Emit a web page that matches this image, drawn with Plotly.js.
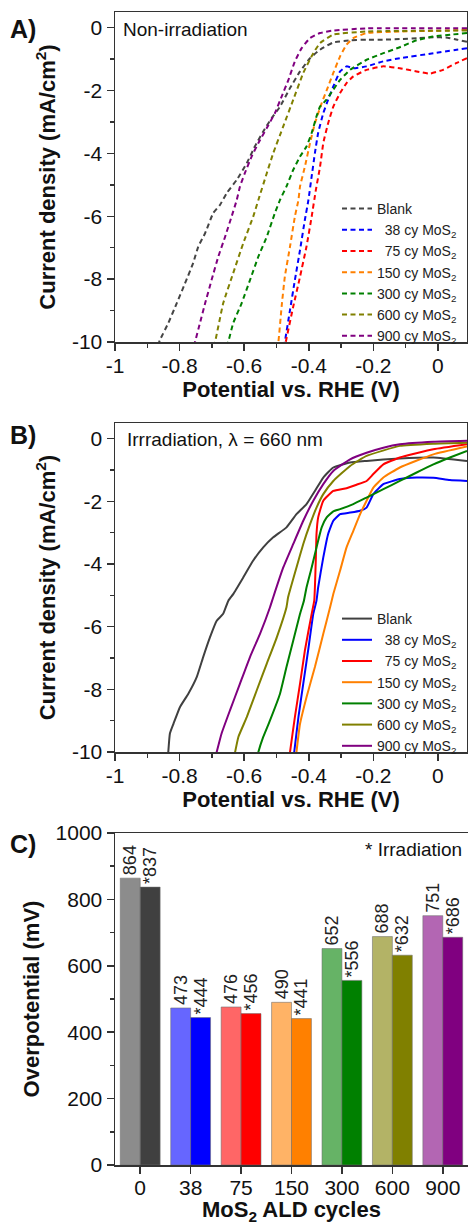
<!DOCTYPE html>
<html>
<head>
<meta charset="utf-8">
<script src="https://cdn.plot.ly/plotly-3.0.1.min.js"></script>
<style>
html,body{margin:0;padding:0;background:#fff;}
#chart{width:468px;height:1224px;}
</style>
</head>
<body>
<div id="chart"></div>
<script>
// ---------- series labels & colours ----------
const seriesNames = ['Blank', '\u00a0\u00a038 cy MoS<sub>2</sub>', '\u00a0\u00a075 cy MoS<sub>2</sub>', '150 cy MoS<sub>2</sub>', '300 cy MoS<sub>2</sub>', '600 cy MoS<sub>2</sub>', '900 cy MoS<sub>2</sub>'];
const seriesColors = ['#454545', '#0000ff', '#ff0000', '#ff8000', '#008000', '#808000', '#800080'];

// ---------- Panel A: non-irradiation (V vs RHE, mA/cm2) ----------
const aBlankV = [0.09, 0.06, 0.03, -0.014, -0.06, -0.118, -0.17, -0.221, -0.27, -0.324, -0.365, -0.396, -0.427, -0.458, -0.489, -0.515, -0.541, -0.567, -0.592, -0.623, -0.654, -0.675, -0.696, -0.721, -0.742, -0.758, -0.783, -0.809, -0.835, -0.861, -0.87];
const aBlankJ = [-0.45, -0.38, -0.32, -0.30, -0.33, -0.36, -0.38, -0.38, -0.40, -0.47, -0.70, -0.97, -1.39, -1.92, -2.51, -2.88, -3.30, -3.78, -4.31, -4.84, -5.26, -5.64, -5.90, -6.54, -6.96, -7.49, -8.13, -8.77, -9.40, -9.94, -10.2];
const a38V = [0.09, -0.014, -0.118, -0.169, -0.221, -0.262, -0.283, -0.303, -0.324, -0.340, -0.355, -0.371, -0.381, -0.391, -0.401, -0.412, -0.427, -0.443, -0.458, -0.474, -0.48];
const a38J = [-0.65, -0.81, -0.97, -1.07, -1.23, -1.29, -1.23, -1.39, -1.87, -2.29, -2.72, -3.35, -3.99, -4.73, -5.48, -6.11, -7.07, -8.03, -8.98, -9.99, -10.3];
const a75V = [0.09, 0.058, 0.016, -0.025, -0.066, -0.118, -0.169, -0.221, -0.262, -0.283, -0.303, -0.324, -0.340, -0.355, -0.365, -0.378, -0.391, -0.407, -0.427, -0.448, -0.471, -0.476];
const a75J = [-0.97, -1.12, -1.34, -1.46, -1.39, -1.29, -1.23, -1.34, -1.55, -1.76, -2.08, -2.51, -3.04, -3.67, -4.42, -5.16, -6.01, -6.96, -7.92, -8.87, -9.99, -10.3];
const a150V = [0.09, -0.014, -0.118, -0.221, -0.262, -0.283, -0.303, -0.324, -0.340, -0.360, -0.381, -0.396, -0.412, -0.427, -0.432, -0.443, -0.458, -0.474, -0.484, -0.494, -0.50];
const a150J = [-0.07, -0.10, -0.12, -0.17, -0.33, -0.54, -0.91, -1.44, -1.87, -2.40, -3.04, -3.67, -4.42, -5.05, -5.48, -6.01, -6.96, -7.92, -8.87, -9.99, -10.3];
const a300V = [0.09, 0.04, -0.014, -0.066, -0.118, -0.169, -0.221, -0.272, -0.303, -0.324, -0.345, -0.365, -0.376, -0.391, -0.407, -0.427, -0.448, -0.469, -0.489, -0.505, -0.530, -0.556, -0.582, -0.608, -0.634, -0.649, -0.655];
const a300J = [-0.17, -0.22, -0.28, -0.40, -0.62, -0.81, -1.02, -1.34, -1.66, -1.97, -2.29, -2.51, -2.82, -3.35, -3.78, -4.10, -4.52, -5.05, -5.48, -5.90, -6.65, -7.28, -8.03, -8.77, -9.40, -9.99, -10.2];
const a600V = [0.09, -0.221, -0.324, -0.365, -0.386, -0.417, -0.448, -0.479, -0.510, -0.530, -0.556, -0.572, -0.603, -0.634, -0.665, -0.690, -0.70];
const a600J = [-0.09, -0.12, -0.22, -0.49, -0.81, -1.44, -2.29, -3.14, -3.99, -4.63, -5.48, -6.01, -6.86, -7.81, -8.77, -9.99, -10.3];
const a900V = [0.09, -0.221, -0.324, -0.365, -0.396, -0.422, -0.443, -0.463, -0.484, -0.505, -0.530, -0.556, -0.577, -0.598, -0.613, -0.623, -0.639, -0.659, -0.680, -0.701, -0.721, -0.737, -0.752, -0.76];
const a900J = [-0.02, -0.02, -0.09, -0.17, -0.33, -0.65, -1.07, -1.66, -2.19, -2.72, -3.19, -3.67, -4.10, -4.63, -5.05, -5.48, -6.01, -6.65, -7.28, -8.03, -8.77, -9.40, -9.99, -10.3];

// ---------- Panel B: irradiation, 660 nm ----------
const bBlankV = [0.09, -0.014, -0.118, -0.221, -0.272, -0.324, -0.355, -0.381, -0.407, -0.438, -0.469, -0.510, -0.541, -0.572, -0.603, -0.634, -0.649, -0.665, -0.685, -0.706, -0.727, -0.747, -0.773, -0.799, -0.819, -0.830, -0.835, -0.837];
const bBlankJ = [-0.71, -0.60, -0.63, -0.71, -0.76, -0.92, -1.24, -1.67, -2.09, -2.41, -2.83, -3.15, -3.47, -3.89, -4.43, -4.96, -5.17, -5.59, -5.81, -6.34, -6.97, -7.61, -8.14, -8.57, -9.10, -9.41, -10.0, -10.3];
const b38V = [0.09, 0.037, -0.014, -0.066, -0.118, -0.169, -0.200, -0.221, -0.241, -0.272, -0.303, -0.324, -0.340, -0.355, -0.371, -0.376, -0.386, -0.402, -0.417, -0.432, -0.445, -0.447];
const b38J = [-1.35, -1.32, -1.25, -1.24, -1.29, -1.45, -1.77, -2.20, -2.30, -2.36, -2.41, -2.62, -3.04, -3.79, -4.75, -5.17, -5.59, -6.76, -7.82, -8.89, -10.0, -10.2];
const b75V = [0.09, -0.014, -0.118, -0.169, -0.200, -0.221, -0.252, -0.283, -0.324, -0.355, -0.371, -0.376, -0.378, -0.381, -0.383, -0.391, -0.412, -0.427, -0.443, -0.458, -0.46];
const b75J = [-0.18, -0.34, -0.60, -0.82, -1.13, -1.35, -1.47, -1.58, -1.67, -1.98, -2.52, -3.04, -3.79, -4.75, -5.17, -5.59, -6.76, -7.82, -8.89, -10.0, -10.2];
const b150V = [0.09, -0.014, -0.118, -0.169, -0.200, -0.221, -0.241, -0.262, -0.283, -0.303, -0.324, -0.334, -0.355, -0.381, -0.407, -0.427, -0.438, -0.44];
const b150J = [-0.25, -0.50, -0.92, -1.24, -1.56, -1.98, -2.41, -2.94, -3.47, -4.21, -4.96, -5.38, -6.23, -7.29, -8.25, -9.10, -10.0, -10.2];
const b300V = [0.09, 0.037, -0.014, -0.066, -0.118, -0.169, -0.221, -0.262, -0.303, -0.324, -0.345, -0.360, -0.376, -0.391, -0.407, -0.415, -0.427, -0.448, -0.469, -0.489, -0.520, -0.541, -0.556, -0.56];
const b300J = [-0.39, -0.60, -0.82, -1.08, -1.35, -1.61, -1.88, -2.09, -2.25, -2.32, -2.52, -2.83, -3.47, -4.11, -4.75, -5.17, -5.59, -6.44, -7.29, -8.14, -8.99, -9.52, -10.0, -10.2];
const b600V = [0.09, -0.014, -0.118, -0.221, -0.272, -0.324, -0.355, -0.376, -0.396, -0.417, -0.438, -0.464, -0.469, -0.499, -0.530, -0.561, -0.592, -0.618, -0.628, -0.632];
const b600J = [-0.13, -0.16, -0.23, -0.55, -0.87, -1.35, -1.77, -2.20, -2.73, -3.36, -4.11, -5.06, -5.38, -6.34, -7.18, -8.03, -8.89, -9.52, -10.0, -10.2];
const b900V = [0.09, -0.014, -0.118, -0.169, -0.221, -0.272, -0.324, -0.355, -0.386, -0.417, -0.448, -0.479, -0.510, -0.520, -0.551, -0.582, -0.613, -0.644, -0.670, -0.685, -0.69];
const b900J = [-0.07, -0.10, -0.18, -0.29, -0.45, -0.66, -1.03, -1.45, -1.98, -2.62, -3.36, -4.11, -5.06, -5.38, -6.23, -6.97, -7.82, -8.67, -9.41, -10.0, -10.2];

// ---------- Panel C: overpotential (mV) ----------
const cycleLabels = ['0', '38', '75', '150', '300', '600', '900'];
const overpotDark = [864, 473, 476, 490, 652, 688, 751];
const overpotLight = [837, 444, 456, 441, 556, 632, 686];
const barColorsDark = ['#8c8c8c', '#6666ff', '#ff6666', '#ffb366', '#66b366', '#b3b366', '#b366b3'];
const barColorsLight = ['#404040', '#0000ff', '#ff0000', '#ff8000', '#008000', '#808000', '#800080'];

// ---------- tick labels ----------
const potTickVals = [-1, -0.8, -0.6, -0.4, -0.2, 0];
const potTickText = ['-1', '-0.8', '-0.6', '-0.4', '-0.2', '0'];
const jTickVals = [0, -2, -4, -6, -8, -10];
const jTickText = ['0', '-2', '-4', '-6', '-8', '-10'];
const opTickVals = [0, 200, 400, 600, 800, 1000];

// ---------- build traces ----------
const FONT = 'Liberation Sans, Arial, Helvetica, sans-serif';
const aSets = [[aBlankV, aBlankJ], [a38V, a38J], [a75V, a75J], [a150V, a150J], [a300V, a300J], [a600V, a600J], [a900V, a900J]];
const bSets = [[bBlankV, bBlankJ], [b38V, b38J], [b75V, b75J], [b150V, b150J], [b300V, b300J], [b600V, b600J], [b900V, b900J]];
const traces = [];
aSets.forEach((s, i) => traces.push({
  type: 'scatter', mode: 'lines', x: s[0], y: s[1], name: seriesNames[i],
  xaxis: 'x', yaxis: 'y', legend: 'legend',
  line: {color: seriesColors[i], width: 2, dash: '5px,3.5px', shape: 'spline', smoothing: 0.4}
}));
bSets.forEach((s, i) => traces.push({
  type: 'scatter', mode: 'lines', x: s[0], y: s[1], name: seriesNames[i],
  xaxis: 'x2', yaxis: 'y2', legend: 'legend2',
  line: {color: i === 0 ? '#404040' : seriesColors[i], width: 2, shape: 'spline', smoothing: 0.4}
}));
traces.push({
  type: 'bar', x: cycleLabels, y: overpotDark, xaxis: 'x3', yaxis: 'y3', showlegend: false,
  marker: {color: barColorsDark, line: {color: 'rgba(110,110,110,0.55)', width: 1}},
  text: overpotDark.map(String), textposition: 'outside', textangle: -90, cliponaxis: false,
  constraintext: 'none', textfont: {family: FONT, size: 18, color: '#222'}
});
traces.push({
  type: 'bar', x: cycleLabels, y: overpotLight, xaxis: 'x3', yaxis: 'y3', showlegend: false,
  marker: {color: barColorsLight, line: {color: 'rgba(110,110,110,0.55)', width: 1}},
  text: overpotLight.map(v => '*' + v), textposition: 'outside', textangle: -90, cliponaxis: false,
  constraintext: 'none', textfont: {family: FONT, size: 18, color: '#222'}
});

// ---------- layout ----------
const W = 468, H = 1224;
const px = v => v / W;
const py = v => 1 - v / H;
const lineCol = '#333';
function potAxis(anchor) {
  return {
    domain: [px(115), px(467)], anchor: anchor, range: [-1, 0.09],
    tickmode: 'array', tickvals: potTickVals, ticktext: potTickText,
    ticks: 'outside', ticklen: 7, tickwidth: 1.5, tickcolor: lineCol, ticklabelstandoff: -3,
    minor: {dtick: 0.1, tick0: -1, ticks: 'outside', ticklen: 4, tickwidth: 1.5, tickcolor: lineCol},
    showline: true, linecolor: lineCol, linewidth: 1.5, mirror: true,
    showgrid: false, zeroline: false,
    tickfont: {family: FONT, size: 21, color: '#111'},
    title: {text: 'Potential vs. RHE (V)', font: {family: FONT, size: 22, weight: 'bold', color: '#111'}, standoff: 6}
  };
}
function jAxis(top, bot, anchor) {
  return {
    domain: [py(bot), py(top)], anchor: anchor, range: [-10, 0.5],
    tickmode: 'array', tickvals: jTickVals, ticktext: jTickText,
    ticks: 'outside', ticklen: 7, tickwidth: 1.5, tickcolor: lineCol,
    minor: {dtick: 1, tick0: 0, ticks: 'outside', ticklen: 4, tickwidth: 1.5, tickcolor: lineCol},
    showline: true, linecolor: lineCol, linewidth: 1.5, mirror: true,
    showgrid: false, zeroline: false,
    tickfont: {family: FONT, size: 21, color: '#111'},
    title: {text: 'Current density (mA/cm<sup>2</sup>)', font: {family: FONT, size: 22, weight: 'bold', color: '#111'}, standoff: 10}
  };
}
const legendBase = {
  xanchor: 'left', yanchor: 'top', bgcolor: 'rgba(0,0,0,0)', borderwidth: 0,
  font: {family: FONT, size: 14, color: '#222'}, tracegroupgap: 0
};
const annFont = (s, b) => ({family: FONT, size: s, color: '#111', weight: b ? 'bold' : 'normal'});
const layout = {
  width: W, height: H, margin: {l: 0, r: 0, t: 0, b: 0},
  paper_bgcolor: '#fff', plot_bgcolor: '#fff',
  font: {family: FONT, color: '#111'},
  barmode: 'group', bargap: 0.21, bargroupgap: 0,
  xaxis: potAxis('y'),
  yaxis: jAxis(12, 342, 'x'),
  xaxis2: potAxis('y2'),
  yaxis2: jAxis(423, 752, 'x2'),
  xaxis3: {
    domain: [px(115), 1], anchor: 'y3', type: 'category', range: [-0.5, 6.5],
    ticks: 'outside', ticklen: 7, tickwidth: 1.5, tickcolor: lineCol, ticklabelstandoff: -4,
    showline: true, linecolor: lineCol, linewidth: 1.5, mirror: true, showgrid: false, zeroline: false,
    tickfont: {family: FONT, size: 21, color: '#111'}
  },
  yaxis3: {
    domain: [py(1165), py(833)], anchor: 'x3', range: [0, 1000],
    tickmode: 'array', tickvals: opTickVals,
    ticks: 'outside', ticklen: 7, tickwidth: 1.5, tickcolor: lineCol,
    minor: {dtick: 100, tick0: 0, ticks: 'outside', ticklen: 4, tickwidth: 1.5, tickcolor: lineCol},
    showline: true, linecolor: lineCol, linewidth: 1.5, mirror: true, showgrid: false, zeroline: false,
    tickfont: {family: FONT, size: 21, color: '#111'},
    title: {text: 'Overpotential (mV)', font: {family: FONT, size: 22, weight: 'bold', color: '#111'}, standoff: 10}
  },
  legend: Object.assign({x: px(337), y: py(193)}, legendBase),
  legend2: Object.assign({x: px(337), y: py(603)}, legendBase),
  annotations: [
    {text: 'A)', x: px(8), y: py(29), xref: 'paper', yref: 'paper', xanchor: 'left', yanchor: 'middle', showarrow: false, font: annFont(25, true)},
    {text: 'B)', x: px(8), y: py(435), xref: 'paper', yref: 'paper', xanchor: 'left', yanchor: 'middle', showarrow: false, font: annFont(25, true)},
    {text: 'C)', x: px(8), y: py(844), xref: 'paper', yref: 'paper', xanchor: 'left', yanchor: 'middle', showarrow: false, font: annFont(25, true)},
    {text: 'Non-irradiation', x: px(121), y: py(29), xref: 'paper', yref: 'paper', xanchor: 'left', yanchor: 'middle', showarrow: false, font: annFont(19, false)},
    {text: 'Irrradiation, \u03bb = 660 nm', x: px(125), y: py(439), xref: 'paper', yref: 'paper', xanchor: 'left', yanchor: 'middle', showarrow: false, font: annFont(19, false)},
    {text: '* Irradiation', x: px(464), y: py(849), xref: 'paper', yref: 'paper', xanchor: 'right', yanchor: 'middle', showarrow: false, font: annFont(19, false)},
    {text: 'MoS<sub>2</sub> ALD cycles', x: px(291.5), y: py(1221), xref: 'paper', yref: 'paper', xanchor: 'center', yanchor: 'bottom', yshift: -6, showarrow: false, font: annFont(22, true)}
  ]
};
Plotly.newPlot('chart', traces, layout, {staticPlot: true, displayModeBar: false});
</script>
</body>
</html>
